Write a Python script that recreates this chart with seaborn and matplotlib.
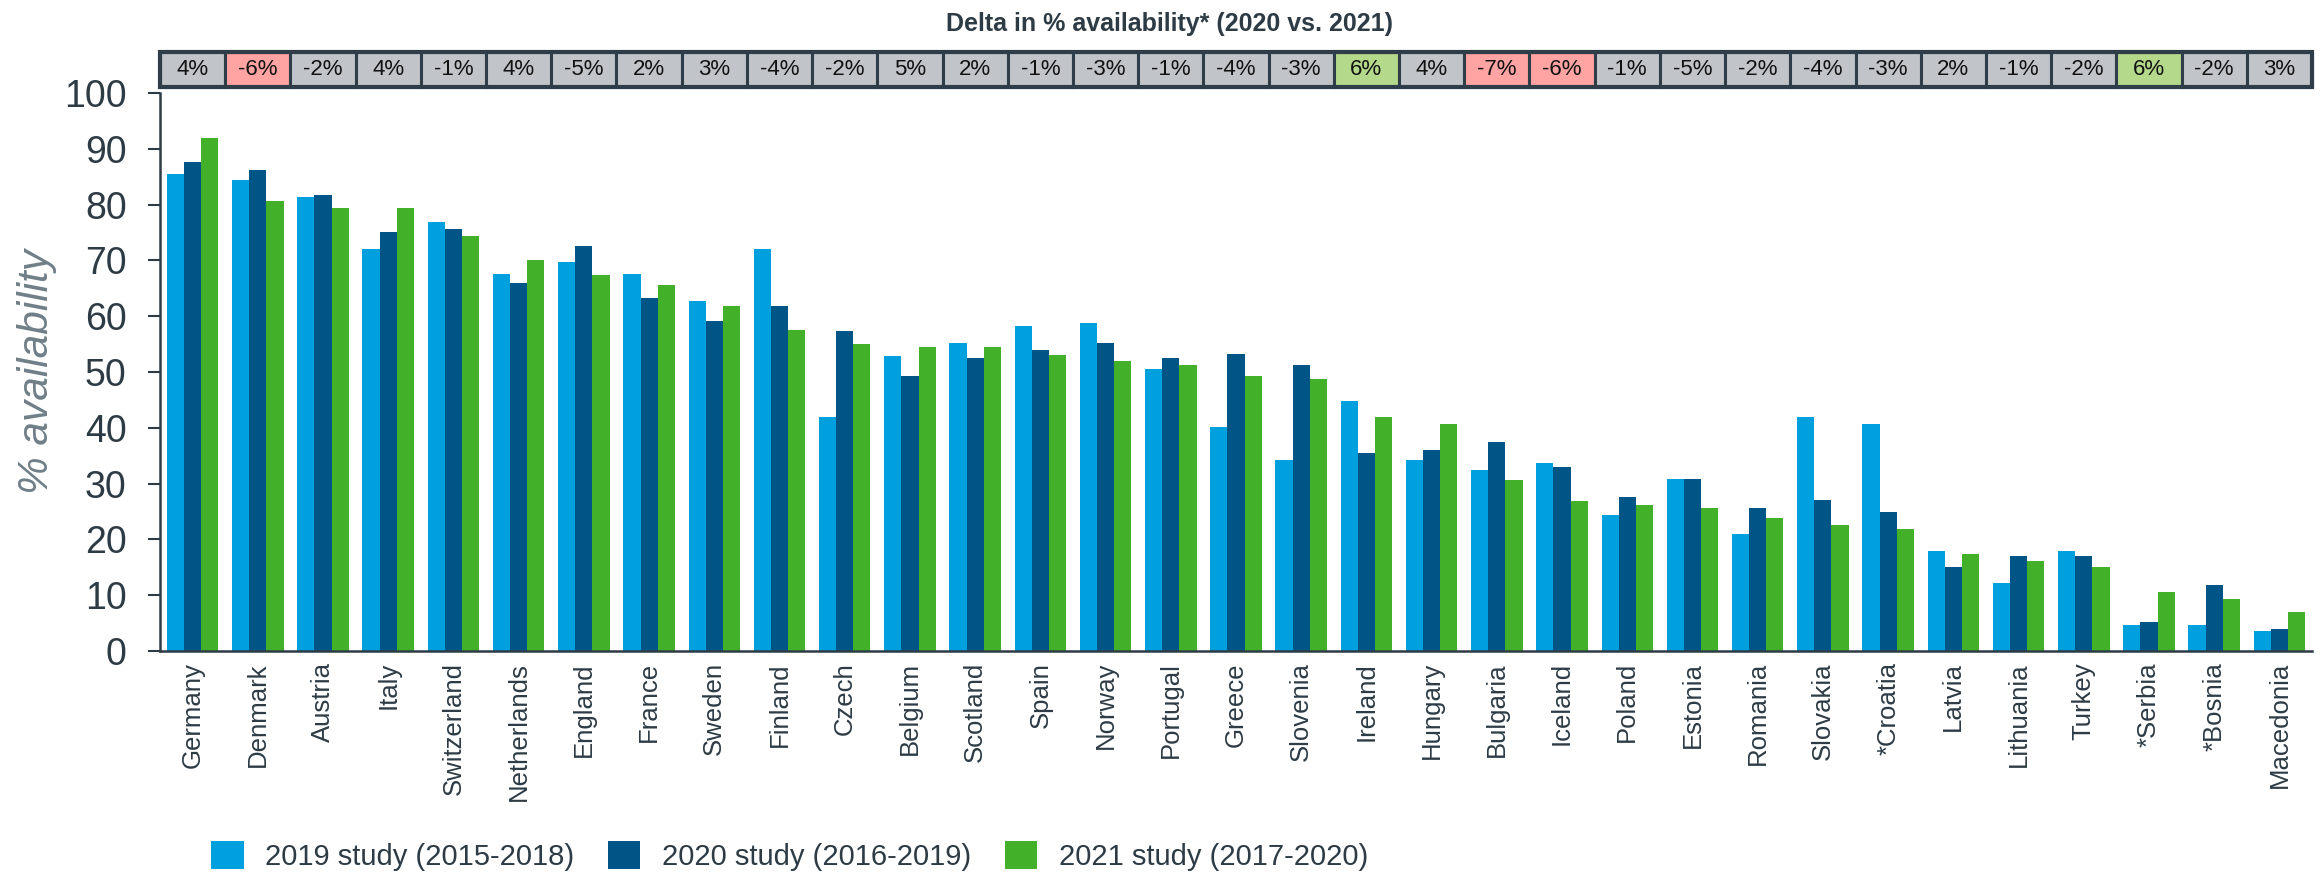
import numpy as np
import pandas as pd
import seaborn as sns
import matplotlib.pyplot as plt
import matplotlib.patches as patches

# --- data ---
countries = ["Germany", "Denmark", "Austria", "Italy", "Switzerland", "Netherlands",
             "England", "France", "Sweden", "Finland", "Czech", "Belgium", "Scotland",
             "Spain", "Norway", "Portugal", "Greece", "Slovenia", "Ireland", "Hungary",
             "Bulgaria", "Iceland", "Poland", "Estonia", "Romania", "Slovakia",
             "*Croatia", "Latvia", "Lithuania", "Turkey", "*Serbia", "*Bosnia", "Macedonia"]

study_2019 = [85.5, 84.4, 81.4, 72.1, 76.8, 67.5, 69.8, 67.5, 62.8, 72.1, 41.9, 52.9, 55.2,
              58.2, 58.8, 50.6, 40.1, 34.3, 44.8, 34.3, 32.5, 33.7, 24.3, 30.8, 21.0, 41.9,
              40.7, 18.0, 12.1, 18.0, 4.7, 4.7, 3.5]
study_2020 = [87.6, 86.2, 81.7, 75.1, 75.7, 66.0, 72.5, 63.2, 59.2, 61.9, 57.3, 49.3, 52.5,
              53.9, 55.2, 52.5, 53.2, 51.2, 35.5, 36.1, 37.4, 32.9, 27.6, 30.9, 25.6, 27.0,
              24.9, 15.1, 17.1, 17.1, 5.2, 11.9, 4.0]
study_2021 = [91.9, 80.7, 79.4, 79.4, 74.4, 70.0, 67.4, 65.6, 61.9, 57.5, 55.0, 54.4, 54.4,
              53.1, 51.9, 51.2, 49.3, 48.8, 41.9, 40.6, 30.7, 26.9, 26.2, 25.6, 23.8, 22.5,
              21.9, 17.4, 16.2, 15.0, 10.6, 9.4, 6.9]

# 2021 vs 2020 delta row shown above the bars
delta = [4, -6, -2, 4, -1, 4, -5, 2, 3, -4, -2, 5, 2, -1, -3, -1, -4, -3, 6, 4, -7, -6,
         -1, -5, -2, -4, -3, 2, -1, -2, 6, -2, 3]

studies = ["2019 study (2015-2018)", "2020 study (2016-2019)", "2021 study (2017-2020)"]

df = pd.DataFrame({
    "country": countries * 3,
    "study": np.repeat(studies, len(countries)),
    "value": study_2019 + study_2020 + study_2021,
})

dark = "#2D3B45"
colors = ["#00A0DF", "#005587", "#43B02A"]
plt.rcParams["font.family"] = ["Liberation Sans", "DejaVu Sans"]

fig = plt.figure(figsize=(23.21, 8.72), dpi=100)
ax = fig.add_axes([160 / 2321, 221 / 872, 2152 / 2321, 558 / 872])

sns.barplot(data=df, x="country", y="value", hue="study", palette=colors,
            width=0.79, linewidth=0, saturation=1, ax=ax, legend=False)

ax.set_xlim(-0.5, len(countries) - 0.5)
ax.set_ylim(0, 100)
ax.set_yticks(range(0, 101, 10))
ax.tick_params(axis="y", labelsize=27, colors=dark, length=9, width=1.5, pad=15)
ax.tick_params(axis="x", labelsize=18.5, colors=dark, length=0, pad=8)
plt.setp(ax.get_xticklabels(), rotation=90, va="top", ha="center")
for s in ["top", "right"]:
    ax.spines[s].set_visible(False)
for s in ["left", "bottom"]:
    ax.spines[s].set_color(dark)
    ax.spines[s].set_linewidth(1.8)
ax.set_xlabel("")
ax.set_ylabel("% availability", fontsize=30.5, style="italic", color="#6F7F88")
ax.yaxis.set_label_coords(-0.048, 0.5)

# --- delta table above the plot ---
trans = ax.get_xaxis_transform()
y0, h = 1.0108, 0.0627
for i, d in enumerate(delta):
    if d <= -6:
        fc = "#FFA3A3"
    elif d >= 6:
        fc = "#B5D98A"
    else:
        fc = "#C1C5C9"
    ax.add_patch(patches.Rectangle((i - 0.5, y0), 1, h, transform=trans, clip_on=False,
                                   facecolor=fc, edgecolor="#2E3D47", linewidth=2.2))
    ax.text(i, y0 + h / 2, f"{d}%", transform=trans, ha="center", va="center",
            fontsize=16, color="#111111")
ax.add_patch(patches.Rectangle((-0.5, y0), len(delta), h, transform=trans, clip_on=False,
                               fill=False, edgecolor="#2E3D47", linewidth=3))

fig.text(0.504, 0.972, "Delta in % availability* (2020 vs. 2021)", ha="center", va="center",
         fontsize=18, fontweight="bold", color=dark,
         family=["Liberation Sans Narrow", "Liberation Sans"])

handles = [patches.Patch(facecolor=c, edgecolor="none") for c in colors]
fig.legend(handles, studies, loc="lower left", bbox_to_anchor=(210 / 2321, 0.0),
           ncol=3, frameon=False, fontsize=21, labelcolor=dark,
           handlelength=1.1, handleheight=1.1, handletextpad=0.75,
           columnspacing=1.15, borderpad=0.05, borderaxespad=0)

fig.savefig("out.png", dpi=100)
